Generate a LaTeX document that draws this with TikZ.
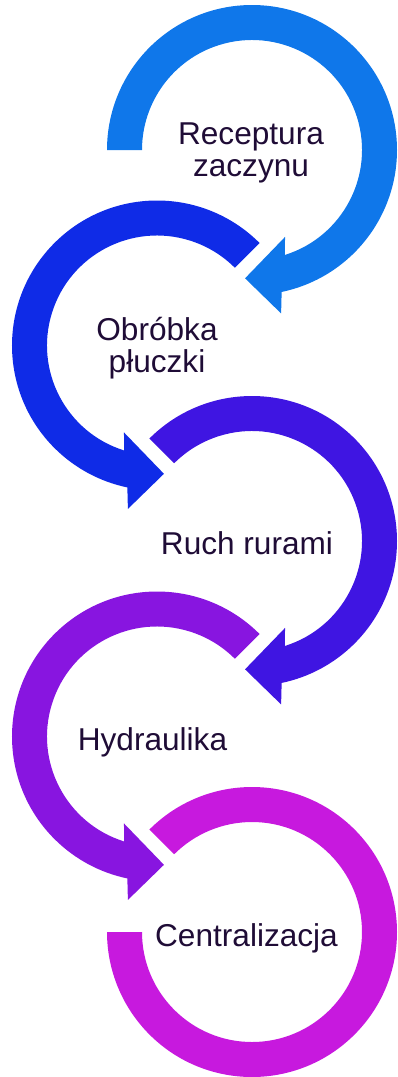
\documentclass[tikz,border=0pt]{standalone}
\usepackage{fontspec}
\setmainfont{Liberation Sans}
\usepackage{tikz}
\usepackage{xcolor}

\definecolor{stepone}{HTML}{0F77EA}
\definecolor{steptwo}{HTML}{0F2BE7}
\definecolor{stepthree}{HTML}{3F15E2}
\definecolor{stepfour}{HTML}{8815E0}
\definecolor{stepfive}{HTML}{C719DE}
\definecolor{labelink}{HTML}{1F0C36}

\tikzset{
  steplabel/.style={font=\fontsize{31.6pt}{32pt}\selectfont, text=labelink, align=center, inner sep=0pt},
}

\begin{document}
\begin{tikzpicture}[x=1pt, y=1pt]
  \useasboundingbox (0,0) rectangle (398,-1077);

  \coordinate (C1) at (252,-150);
  \coordinate (C2) at (157,-345.5);
  \coordinate (C3) at (252,-541);
  \coordinate (C4) at (157,-736.5);
  \coordinate (C5) at (252,-932);

  % right hand rings, turning clockwise
  \fill[stepone] ([shift={(180:145pt)}]C1) arc[start angle=180, end angle=-78.2, radius=145pt]
    -- ([shift={(-79.9:166pt)}]C1) -- ([shift={(-93.1:128.5pt)}]C1)
    -- ([shift={(-69.2:93pt)}]C1) -- ([shift={(-72.6:110pt)}]C1)
    arc[start angle=-72.6, end angle=180, radius=110pt] -- cycle;

  \fill[stepthree] ([shift={(135:145pt)}]C3) arc[start angle=135, end angle=-78.2, radius=145pt]
    -- ([shift={(-79.9:166pt)}]C3) -- ([shift={(-93.1:128.5pt)}]C3)
    -- ([shift={(-69.2:93pt)}]C3) -- ([shift={(-72.6:110pt)}]C3)
    arc[start angle=-72.6, end angle=135, radius=110pt] -- cycle;

  % left hand rings, turning the other way
  \fill[steptwo] ([shift={(45:145pt)}]C2) arc[start angle=45, end angle=258.2, radius=145pt]
    -- ([shift={(259.9:166pt)}]C2) -- ([shift={(273.1:128.5pt)}]C2)
    -- ([shift={(249.2:93pt)}]C2) -- ([shift={(252.6:110pt)}]C2)
    arc[start angle=252.6, end angle=45, radius=110pt] -- cycle;

  \fill[stepfour] ([shift={(45:145pt)}]C4) arc[start angle=45, end angle=258.2, radius=145pt]
    -- ([shift={(259.9:166pt)}]C4) -- ([shift={(273.1:128.5pt)}]C4)
    -- ([shift={(249.2:93pt)}]C4) -- ([shift={(252.6:110pt)}]C4)
    arc[start angle=252.6, end angle=45, radius=110pt] -- cycle;

  % last ring, no head
  \fill[stepfive] ([shift={(135:145pt)}]C5) arc[start angle=135, end angle=-180, radius=145pt]
    -- ([shift={(180:110pt)}]C5)
    arc[start angle=-180, end angle=135, radius=110pt] -- cycle;

  \node[steplabel] (L1) at ([shift={(-1pt,-3pt)}]C1) {Receptura\\zaczynu};
  \node[steplabel] (L2) at ([yshift=-3pt]C2) {Obróbka\\płuczki};
  \node[steplabel, anchor=base] (L3) at ([shift={(-5pt,-13.5pt)}]C3) {Ruch rurami};
  \node[steplabel, anchor=base] (L4) at ([shift={(-4.5pt,-13.5pt)}]C4) {Hydraulika};
  \node[steplabel, anchor=base] (L5) at ([shift={(-5.5pt,-14.5pt)}]C5) {Centralizacja};

\end{tikzpicture}
\end{document}
